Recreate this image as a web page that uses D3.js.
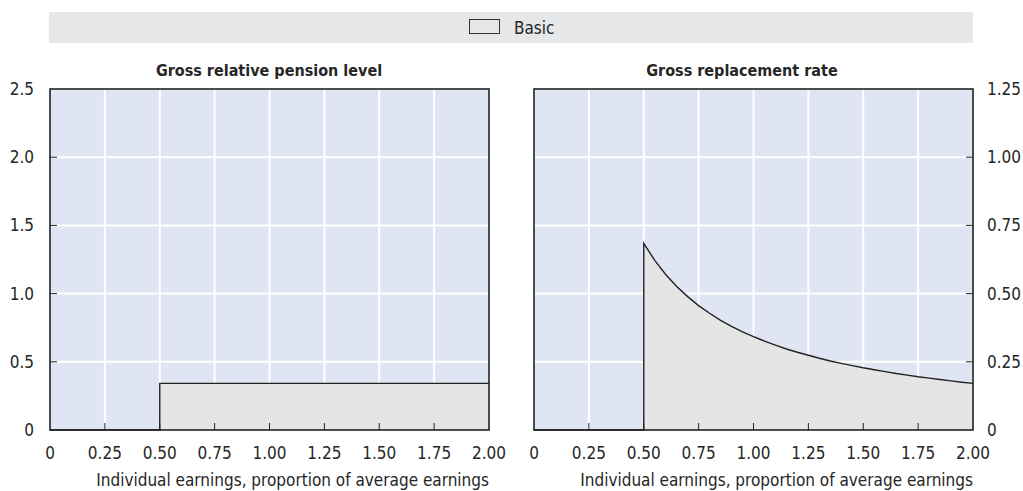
<!DOCTYPE html>
<html><head><meta charset="utf-8">
<script src="https://cdn.jsdelivr.net/npm/d3@7"></script>
<style>
body{margin:0;background:#fff;}
svg text{font-family:"DejaVu Sans Condensed","Liberation Sans Narrow",sans-serif;fill:#262626;}
</style></head>
<body><svg id="c" width="1023" height="491"></svg>
<script>
// ---- data ----
const xTicks = [0, 0.25, 0.5, 0.75, 1.0, 1.25, 1.5, 1.75, 2.0];
const xTickLabels = ["0","0.25","0.50","0.75","1.00","1.25","1.50","1.75","2.00"];
const leftYTicks = [0, 0.5, 1.0, 1.5, 2.0, 2.5];
const leftYTickLabels = ["0","0.5","1.0","1.5","2.0","2.5"];
const rightYTicks = [0, 0.25, 0.5, 0.75, 1.0, 1.25];
const rightYTickLabels = ["0","0.25","0.50","0.75","1.00","1.25"];
const seriesName = "Basic";
// Gross relative pension level (basic)
const levelX = [0, 0.5, 0.5, 2.0];
const levelY = [0, 0, 0.342, 0.342];
// Gross replacement rate (basic)
const rateX = [0, 0.5, 0.5, 0.55, 0.6, 0.65, 0.7, 0.75, 0.8, 0.85, 0.9, 0.95, 1.0, 1.05, 1.1, 1.15, 1.2, 1.25, 1.3, 1.35, 1.4, 1.45, 1.5, 1.55, 1.6, 1.65, 1.7, 1.75, 1.8, 1.85, 1.9, 1.95, 2.0];
const rateY = [0, 0, 0.684, 0.622, 0.570, 0.526, 0.489, 0.456, 0.428, 0.402, 0.380, 0.360, 0.342, 0.326, 0.311, 0.297, 0.285, 0.274, 0.263, 0.253, 0.244, 0.236, 0.228, 0.221, 0.214, 0.207, 0.201, 0.195, 0.190, 0.185, 0.180, 0.175, 0.171];
const titles = ["Gross relative pension level", "Gross replacement rate"];
const xTitle = "Individual earnings, proportion of average earnings";

const svg = d3.select("#c");
const FS = 17;

// legend bar
svg.append("rect").attr("x",49).attr("y",12).attr("width",924).attr("height",31).attr("fill","#e6e7e8");
svg.append("rect").attr("x",469.5).attr("y",19.5).attr("width",30).attr("height",14).attr("fill","#e6e6e6").attr("stroke","#333").attr("stroke-width",1);
svg.append("text").attr("x",514).attr("y",34).attr("font-size",FS).text(seriesName);

function panel(x0, x1, yMax, yTicks, yLabels, xs, ys, title, titleX, side){
  const top = 89, bottom = 430;
  const x = d3.scaleLinear().domain([0,2]).range([x0,x1]);
  const y = d3.scaleLinear().domain([0,yMax]).range([bottom,top]);
  const g = svg.append("g");
  g.append("rect").attr("x",x0).attr("y",top).attr("width",x1-x0).attr("height",bottom-top).attr("fill","#dfe5f3");
  // grid
  g.selectAll(".vg").data(xTicks.slice(1,-1)).join("line")
    .attr("x1",d=>x(d)).attr("x2",d=>x(d)).attr("y1",top).attr("y2",bottom)
    .attr("stroke","#fff").attr("stroke-width",2);
  g.selectAll(".hg").data(yTicks.slice(1,-1)).join("line")
    .attr("x1",x0).attr("x2",x1).attr("y1",d=>y(d)).attr("y2",d=>y(d))
    .attr("stroke","#fff").attr("stroke-width",2);
  // area
  const pts = xs.map((v,i)=>[v,ys[i]]);
  const area = d3.area().x(d=>x(d[0])).y0(y(0)).y1(d=>y(d[1])).curve(d3.curveLinear);
  g.append("path").datum(pts).attr("d",area).attr("fill","#e5e5e5");
  const line = d3.line().x(d=>x(d[0])).y(d=>y(d[1]));
  g.append("path").datum(pts).attr("d",line).attr("fill","none").attr("stroke","#222").attr("stroke-width",1.4);
  // ticks (inward)
  g.selectAll(".xt").data(xTicks.slice(1,-1)).join("line")
    .attr("x1",d=>x(d)).attr("x2",d=>x(d)).attr("y1",bottom).attr("y2",bottom-7)
    .attr("stroke","#222").attr("stroke-width",1);
  const yx = side==="left" ? x0 : x1;
  const dir = side==="left" ? 1 : -1;
  g.selectAll(".yt").data(yTicks.slice(1,-1)).join("line")
    .attr("x1",yx).attr("x2",yx+dir*7).attr("y1",d=>y(d)).attr("y2",d=>y(d))
    .attr("stroke","#222").attr("stroke-width",1);
  // border
  g.append("rect").attr("x",x0).attr("y",top).attr("width",x1-x0).attr("height",bottom-top)
    .attr("fill","none").attr("stroke","#222").attr("stroke-width",1.6);
  // labels
  g.selectAll(".xl").data(xTicks).join("text")
    .attr("x",d=>x(d)).attr("y",459).attr("text-anchor","middle").attr("font-size",FS)
    .text((d,i)=>xTickLabels[i]);
  g.selectAll(".yl").data(yTicks).join("text")
    .attr("x", side==="left" ? 34 : 987).attr("y",d=>y(d)+6)
    .attr("text-anchor", side==="left" ? "end" : "start").attr("font-size",FS)
    .text((d,i)=>yLabels[i]);
  g.append("text").attr("x",titleX).attr("y",76).attr("text-anchor","middle")
    .attr("font-size",16).attr("font-weight","bold").text(title);
  g.append("text").attr("x",x1).attr("y",486).attr("text-anchor","end")
    .attr("font-size",FS).text(xTitle);
}
panel(50, 489, 2.5, leftYTicks, leftYTickLabels, levelX, levelY, titles[0], 269, "left");
panel(534, 973, 1.25, rightYTicks, rightYTickLabels, rateX, rateY, titles[1], 742, "right");
</script></body></html>
